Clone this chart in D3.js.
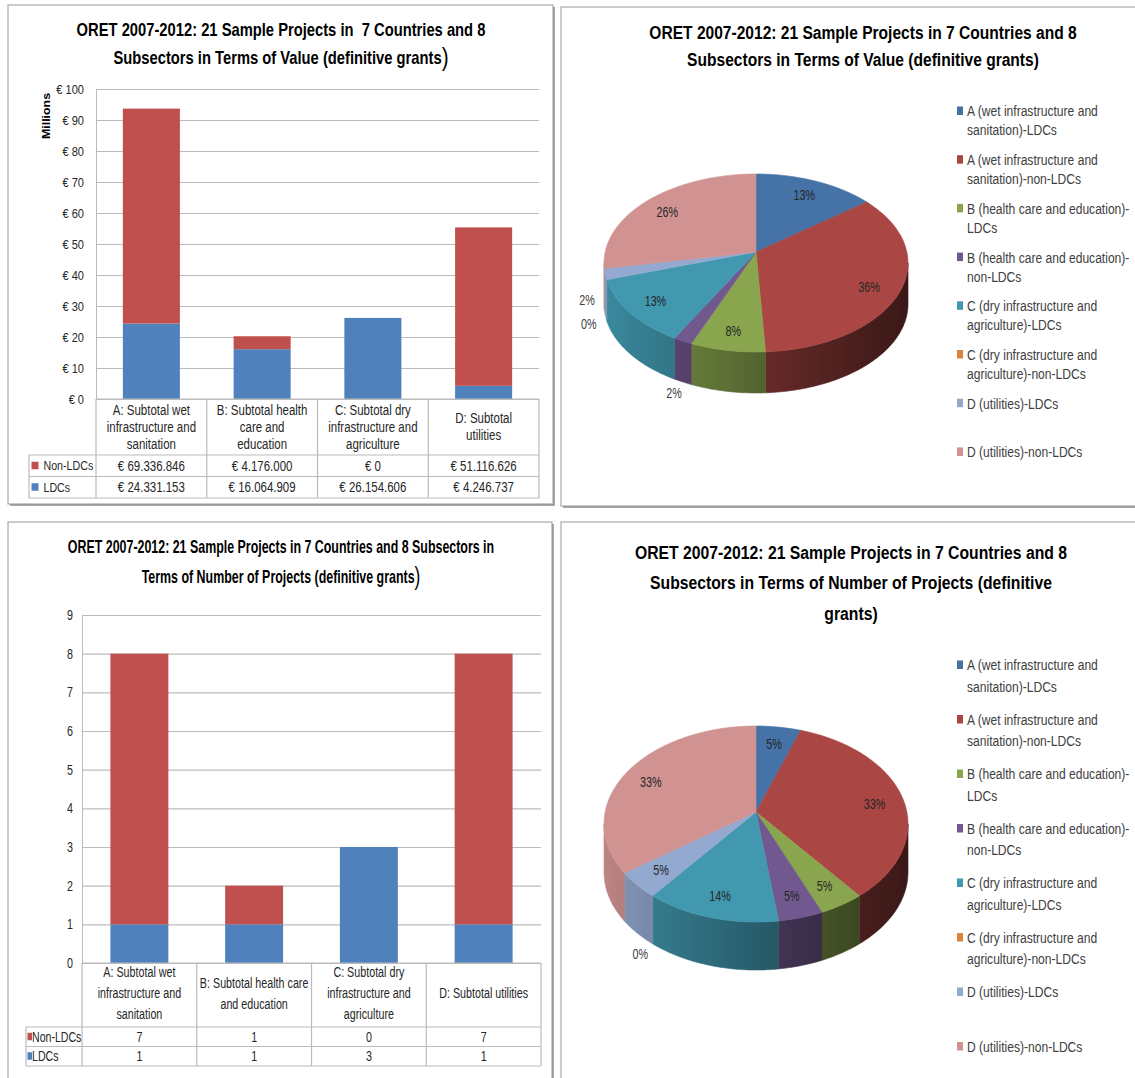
<!DOCTYPE html>
<html>
<head>
<meta charset="utf-8">
<script src="https://cdn.jsdelivr.net/npm/d3@7"></script>
<style>
  body { margin: 0; background: #fff; }
  svg text { font-family: 'Liberation Sans', Arial, sans-serif; }
</style>
</head>
<body>
<svg id="chart" width="1135" height="1078"></svg>
<script>
// ---- data ----
var headerValue = [["A: Subtotal wet", "infrastructure and", "sanitation"],
                   ["B: Subtotal health", "care and", "education"],
                   ["C: Subtotal dry", "infrastructure and", "agriculture"],
                   ["D: Subtotal", "utilities"]];
var headerCount = [["A: Subtotal wet", "infrastructure and", "sanitation"],
                   ["B: Subtotal health care", "and education"],
                   ["C: Subtotal dry", "infrastructure and", "agriculture"],
                   ["D: Subtotal utilities"]];
var seriesNames = ["Non-LDCs", "LDCs"];

// euros per subsector
var valueNonLDC = [69336846, 4176000, 0, 51116626];
var valueLDC = [24331153, 16064909, 26154606, 4246737];
var valueTicks = [0, 10, 20, 30, 40, 50, 60, 70, 80, 90, 100];   // millions

// number of projects per subsector
var countNonLDC = [7, 1, 0, 7];
var countLDC = [1, 1, 3, 1];
var countTicks = [0, 1, 2, 3, 4, 5, 6, 7, 8, 9];

// pie slices (A-LDC, A-non, B-LDC, B-non, C-LDC, C-non, D-LDC, D-non)
var legendLines = [["A (wet infrastructure and", "sanitation)-LDCs"],
                   ["A (wet infrastructure and", "sanitation)-non-LDCs"],
                   ["B (health care and education)-", "LDCs"],
                   ["B (health care and education)-", "non-LDCs"],
                   ["C (dry infrastructure and", "agriculture)-LDCs"],
                   ["C (dry infrastructure and", "agriculture)-non-LDCs"],
                   ["D (utilities)-LDCs"],
                   ["D (utilities)-non-LDCs"]];
var valueSharePct = [13, 36, 8, 2, 13, 0, 2, 26];
var sliceColors = ["#4572A7", "#AA4643", "#89A54E", "#71588F", "#4198AF", "#DB843D", "#93A9CF", "#D19392"];

var RED = "#C0504D", BLUE = "#4F81BD", GRID = "#BBBBBB", TXT = "#262626";

var svg = d3.select("#chart");
var defs = svg.append("defs");

var euro = d3.formatLocale({decimal: ",", thousands: ".", grouping: [3], currency: ["€ ", ""]}).format("$,.0f");
var pct = d3.format(".0%");

// the source picture is squeezed sideways, so text is drawn narrowed around its anchor
function label(g, x, y, s, size, anchor, sx) {
  return g.append("text")
    .attr("transform", "translate(" + x + "," + y + ") scale(" + (sx || 0.82) + ",1)")
    .attr("dy", "0.35em").attr("text-anchor", anchor || "start")
    .attr("font-size", size).style("white-space", "pre").text(s);
}

// ---- panel frames ----
function frame(x0, y0, x1, y1) {
  svg.append("rect").attr("x", x0).attr("y", y0).attr("width", x1 - x0).attr("height", y1 - y0)
    .attr("fill", "#fff").attr("stroke", "#B0B0B0").attr("stroke-width", 1.3);
  svg.append("path").attr("d", "M" + (x1 + 1) + "," + (y0 + 2) + "V" + (y1 + 1) + "H" + (x0 + 2))
    .attr("fill", "none").attr("stroke", "#8C8C8C").attr("stroke-width", 1.5);
}
frame(8, 5, 553, 504);
frame(561, 7, 1145, 506);
frame(8, 522, 552, 1090);
frame(561, 522, 1145, 1090);

function title(lines, cx, y0, step, size, sx, bigParen) {
  lines.forEach(function(l, i) {
    var last = bigParen && i == lines.length - 1;
    var t = label(svg, cx, y0 + i * step, last ? "" : l, size, "middle", sx)
      .attr("font-weight", "bold").attr("fill", "#000");
    if (last) {
      t.append("tspan").text(l);
      t.append("tspan").attr("font-size", size * 1.4).attr("font-weight", "normal").attr("dy", "0.05em").text(")");
    }
  });
}

// ---- stacked bar chart with data table ----
function drawBars(o) {
  var g = svg.append("g");
  var n = o.header.length;
  var y = d3.scaleLinear().domain([0, d3.max(o.ticks)]).range([o.bottom, o.top]);
  var xb = d3.scaleBand().domain(d3.range(n)).range([o.left, o.right])
    .paddingInner(o.pad).paddingOuter(o.pad / 2);
  var xc = d3.scaleBand().domain(d3.range(n)).range([o.left, o.right]);

  var ax = g.append("g").attr("transform", "translate(" + o.left + ",0)")
    .call(d3.axisLeft(y).tickValues(o.ticks).tickSize(-(o.right - o.left)).tickSizeOuter(0)
      .tickPadding(o.tickPad).tickFormat(o.tickFmt));
  ax.select(".domain").attr("stroke", GRID);
  ax.selectAll(".tick line").attr("stroke", GRID).attr("stroke-width", 1.2);
  ax.selectAll(".tick text").attr("font-size", o.tickSize).attr("fill", TXT)
    .attr("x", -o.tickPad / o.sx).attr("transform", "scale(" + o.sx + ",1)")
    .style("font-family", "'Liberation Sans', Arial, sans-serif");

  if (o.yTitle) {
    g.append("text").attr("transform", "translate(" + o.yTitleX + "," + o.yTitleY + ") rotate(-90) scale(1,0.82)")
      .attr("text-anchor", "middle").attr("font-size", 12.4).attr("font-weight", "bold")
      .attr("fill", "#000").text(o.yTitle);
  }

  var rows = d3.range(n).map(function(i) { return {ldc: o.ldc[i], non: o.non[i]}; });
  var stack = d3.stack().keys(["ldc", "non"])(rows);
  var colors = {ldc: BLUE, non: RED};
  g.selectAll(".series").data(stack).enter().append("g")
    .attr("fill", function(s) { return colors[s.key]; })
    .selectAll("rect").data(function(s) { return s; }).enter().append("rect")
    .attr("x", function(d, i) { return xb(i); })
    .attr("width", xb.bandwidth())
    .attr("y", function(d) { return y(d[1]); })
    .attr("height", function(d) { return y(d[0]) - y(d[1]); });

  // data table
  var hb = o.headerBottom, r1 = hb + o.rowH, r2 = hb + 2 * o.rowH;
  var lines = g.append("g").attr("stroke", GRID).attr("stroke-width", 1.2);
  lines.append("line").attr("x1", o.left).attr("x2", o.right).attr("y1", o.bottom).attr("y2", o.bottom);
  [hb, r1, r2].forEach(function(yy) {
    lines.append("line").attr("x1", o.tableLeft).attr("x2", o.right).attr("y1", yy).attr("y2", yy);
  });
  lines.append("line").attr("x1", o.tableLeft).attr("x2", o.tableLeft).attr("y1", hb).attr("y2", r2);
  d3.range(n + 1).forEach(function(i) {
    var xx = i < n ? xc(i) : o.right;
    lines.append("line").attr("x1", xx).attr("x2", xx).attr("y1", o.bottom).attr("y2", r2);
  });

  var hc = (o.bottom + hb) / 2 + o.headerShift;
  o.header.forEach(function(ls, i) {
    ls.forEach(function(l, j) {
      label(g, xc(i) + xc.bandwidth() / 2, hc + (j - (ls.length - 1) / 2) * o.headerStep, l, o.textSize, "middle", o.sx)
        .attr("fill", TXT);
    });
  });

  var tableRows = [{name: seriesNames[0], color: RED, vals: o.tableNon}, {name: seriesNames[1], color: BLUE, vals: o.tableLdc}];
  tableRows.forEach(function(r, k) {
    var cy = hb + (k + 0.5) * o.rowH;
    g.append("rect").attr("x", o.keyX).attr("y", cy - 4).attr("width", o.keyW).attr("height", 7.5).attr("fill", r.color);
    label(g, o.keyTextX, cy, r.name, o.keySize, "start", o.sx).attr("fill", TXT);
    r.vals.forEach(function(v, i) {
      label(g, xc(i) + xc.bandwidth() / 2, cy, o.valFmt(v), o.textSize, "middle", o.sx).attr("fill", TXT);
    });
  });
}

// ---- 3D pie ----
function drawPie(o) {
  var g = svg.append("g");
  var total = d3.sum(o.values);
  var arcs = d3.pie().sort(null).value(function(d) { return d; })(o.values);
  function pt(a, dz) { return [o.cx + o.rx * Math.sin(a), o.cy - o.ry * Math.cos(a) + (dz || 0)]; }
  function sample(a0, a1, dz) {
    var k = Math.max(2, Math.ceil((a1 - a0) / 0.02)), p = [];
    for (var i = 0; i <= k; i++) p.push(pt(a0 + (a1 - a0) * i / k, dz));
    return p;
  }

  // side walls (front half only), shaded darker toward the right
  arcs.forEach(function(a, i) {
    var b0 = Math.max(a.startAngle, Math.PI / 2), b1 = Math.min(a.endAngle, 3 * Math.PI / 2);
    if (b1 <= b0) return;
    var id = o.id + "wall" + i;
    var grad = defs.append("linearGradient").attr("id", id).attr("gradientUnits", "userSpaceOnUse")
      .attr("x1", o.cx - o.rx).attr("x2", o.cx + o.rx).attr("y1", 0).attr("y2", 0);
    var base = d3.rgb(sliceColors[i]);
    d3.range(11).forEach(function(s) {
      var t = s / 10, m = 0.9 - 0.56 * t;
      grad.append("stop").attr("offset", t)
        .attr("stop-color", d3.rgb(base.r * m, base.g * m, base.b * m).formatHex());
    });
    var pts = sample(b0, b1, 0).concat(sample(b0, b1, o.depth).reverse());
    g.append("path").attr("d", "M" + pts.join("L") + "Z").attr("fill", "url(#" + id + ")")
      .attr("stroke", "url(#" + id + ")").attr("stroke-width", 0.6);
  });

  // top faces
  arcs.forEach(function(a, i) {
    if (a.endAngle <= a.startAngle) return;
    var pts = [[o.cx, o.vy]].concat(sample(a.startAngle, a.endAngle, 0));
    g.append("path").attr("d", "M" + pts.join("L") + "Z").attr("fill", sliceColors[i])
      .attr("stroke", sliceColors[i]).attr("stroke-width", 0.6);
  });

  // percentage labels
  var placed = [];
  arcs.forEach(function(a, i) {
    var share = a.value / total, mid = (a.startAngle + a.endAngle) / 2, e = pt(mid, 0);
    var inside = share >= 0.04, f = inside ? 0.8 : 1.12;
    var lx = o.cx + f * (e[0] - o.cx), ly = o.vy + f * (e[1] - o.vy) + (inside ? 0 : o.depth);
    if (!inside) {
      placed.forEach(function(p) {
        if (Math.abs(p[0] - lx) < 28 && Math.abs(p[1] - ly) < 24) ly = p[1] - 24;
      });
      placed.push([lx, ly]);
    }
    label(g, lx, ly, pct(share), 14, "middle", 0.77).attr("fill", inside ? "#262626" : "#404040");
  });

  // legend
  legendLines.forEach(function(ls, i) {
    var y0 = o.legY + i * o.legStep;
    g.append("rect").attr("x", o.legX).attr("y", y0 - 4.5).attr("width", 6).attr("height", 8.5)
      .attr("fill", sliceColors[i]);
    ls.forEach(function(l, j) {
      label(g, o.legX + 10, y0 + j * o.legLine, l, 15.5, "start", 0.78).attr("fill", "#404040");
    });
  });
}

// ---- top left: value bars ----
title(["ORET 2007-2012: 21 Sample Projects in  7 Countries and 8",
       "Subsectors in Terms of Value (definitive grants"], 281, 30, 28, 18, 0.82, true);
drawBars({
  header: headerValue,
  ldc: valueLDC.map(function(v) { return v / 1e6; }),
  non: valueNonLDC.map(function(v) { return v / 1e6; }),
  tableLdc: valueLDC, tableNon: valueNonLDC,
  ticks: valueTicks, tickFmt: function(d) { return "€ " + d; },
  left: 96, right: 539, top: 89, bottom: 399, pad: 0.485, tickPad: 12, tickSize: 13.5, sx: 0.82,
  yTitle: "Millions", yTitleX: 50, yTitleY: 116,
  headerBottom: 455, rowH: 21.5, headerStep: 17, headerShift: 0, textSize: 14,
  tableLeft: 29, keyX: 31.5, keyW: 7, keyTextX: 43.5, keySize: 13,
  valFmt: euro
});

// ---- bottom left: project counts ----
title(["ORET 2007-2012: 21 Sample Projects in 7 Countries and 8 Subsectors in",
       "Terms of Number of Projects (definitive grants"], 281, 547, 30, 18, 0.69, true);
drawBars({
  header: headerCount, ldc: countLDC, non: countNonLDC,
  tableLdc: countLDC, tableNon: countNonLDC,
  ticks: countTicks, tickFmt: d3.format("d"),
  left: 82, right: 541, top: 615, bottom: 963, pad: 0.495, tickPad: 9, tickSize: 14.5, sx: 0.74,
  headerBottom: 1027, rowH: 19.5, headerStep: 21, headerShift: -2, textSize: 14.5,
  tableLeft: 26, keyX: 27.5, keyW: 4.5, keyTextX: 32, keySize: 14.3,
  valFmt: d3.format("d")
});

// ---- top right: value shares ----
title(["ORET 2007-2012: 21 Sample Projects in 7 Countries and 8",
       "Subsectors in Terms of Value (definitive grants)"], 863, 32, 27, 19, 0.82, false);
drawPie({
  id: "pv", values: valueSharePct, cx: 756, cy: 263, vy: 252, rx: 152, ry: 89, depth: 41,
  legX: 957, legY: 111, legStep: 48.7, legLine: 19
});

// ---- bottom right: project shares ----
title(["ORET 2007-2012: 21 Sample Projects in 7 Countries and 8",
       "Subsectors in Terms of Number of Projects (definitive",
       "grants)"], 851, 552, 30.5, 19.2, 0.82, false);
var countSlices = [];
countLDC.forEach(function(v, i) { countSlices.push(v, countNonLDC[i]); });
drawPie({
  id: "pc", values: countSlices, cx: 756, cy: 824, vy: 812, rx: 152, ry: 98, depth: 48,
  legX: 957, legY: 665, legStep: 54.5, legLine: 21.5
});
</script>
</body>
</html>
